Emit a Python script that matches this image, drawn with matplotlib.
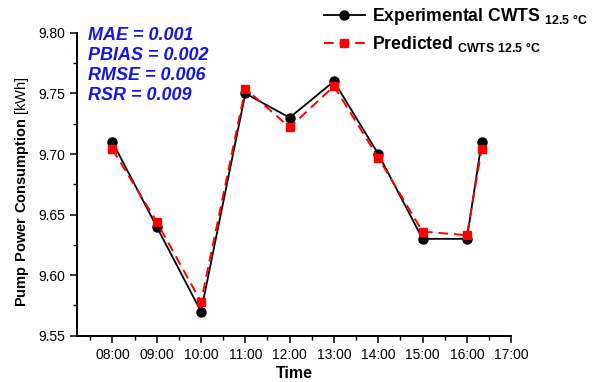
import matplotlib
matplotlib.use("Agg")
import matplotlib.pyplot as plt
import numpy as np
from matplotlib.ticker import MultipleLocator, FuncFormatter

plt.rcParams['font.family'] = ['Liberation Sans', 'DejaVu Sans']
plt.rcParams['mathtext.fontset'] = 'custom'
plt.rcParams['mathtext.rm'] = 'Liberation Sans'
plt.rcParams['mathtext.bf'] = 'Liberation Sans:bold'

# measurement times and pump power (kWh)
times = ["08:00", "09:00", "10:00", "11:00", "12:00", "13:00", "14:00", "15:00", "16:00", "16:20"]
experimental = [9.71, 9.64, 9.57, 9.75, 9.73, 9.76, 9.70, 9.63, 9.63, 9.71]
predicted = [9.704, 9.644, 9.578, 9.754, 9.722, 9.756, 9.697, 9.636, 9.633, 9.704]
stats = ["MAE = 0.001", "PBIAS = 0.002", "RMSE = 0.006", "RSR = 0.009"]

hours = np.array([int(t[:2]) + int(t[3:]) / 60 for t in times])

fig = plt.figure(figsize=(6, 3.82), dpi=100)
ax = fig.add_axes([0.129, 0.121, 0.723, 0.793])

ax.plot(hours, experimental, color='black', lw=1.3, marker='o', ms=6.5,
        label=r'Experimental CWTS $_{\bf 12.5\ °C}$', zorder=3)
ax.plot(hours, predicted, color='red', lw=1.4, ls=(0, (5, 3)), marker='s', ms=6,
        label=r'Predicted $_{\bf CWTS\ 12.5\ °C}$', zorder=4)

ax.set_xlim(7.21, 17.0)
ax.set_ylim(9.55, 9.80)
ax.xaxis.set_major_locator(MultipleLocator(1))
ax.xaxis.set_minor_locator(MultipleLocator(0.5))
ax.xaxis.set_major_formatter(FuncFormatter(lambda v, p: "%02d:00" % round(v)))
ax.yaxis.set_major_locator(MultipleLocator(0.05))
ax.yaxis.set_minor_locator(MultipleLocator(0.025))
ax.yaxis.set_major_formatter(FuncFormatter(lambda v, p: "%.2f" % v))

for s in ['top', 'right']:
    ax.spines[s].set_visible(False)
for s in ['left', 'bottom']:
    ax.spines[s].set_linewidth(1.4)
ax.tick_params(which='major', direction='out', length=5, width=1.1, labelsize=10)
ax.tick_params(which='minor', direction='out', length=3, width=1.0)

ax.set_xlabel('Time', fontsize=11.5, fontweight='bold', labelpad=3)
ax.set_ylabel(r'$\bf{Pump\ Power\ Consumption}$ [kWh]', fontsize=10.5)
ax.yaxis.set_label_coords(-0.108, 0.475)

ax.text(0.025, 1.018, "\n".join(stats), transform=ax.transAxes, va='top', ha='left',
        color='#1515e8', fontsize=13, fontweight='bold', fontstyle='italic', linespacing=1.22)

leg = ax.legend(loc='upper left', bbox_to_anchor=(0.532, 1.14), frameon=False,
                handlelength=2.3, labelspacing=0.4, handletextpad=0.4,
                prop={'weight': 'bold', 'size': 12.7})

fig.savefig("out.png", dpi=100)
